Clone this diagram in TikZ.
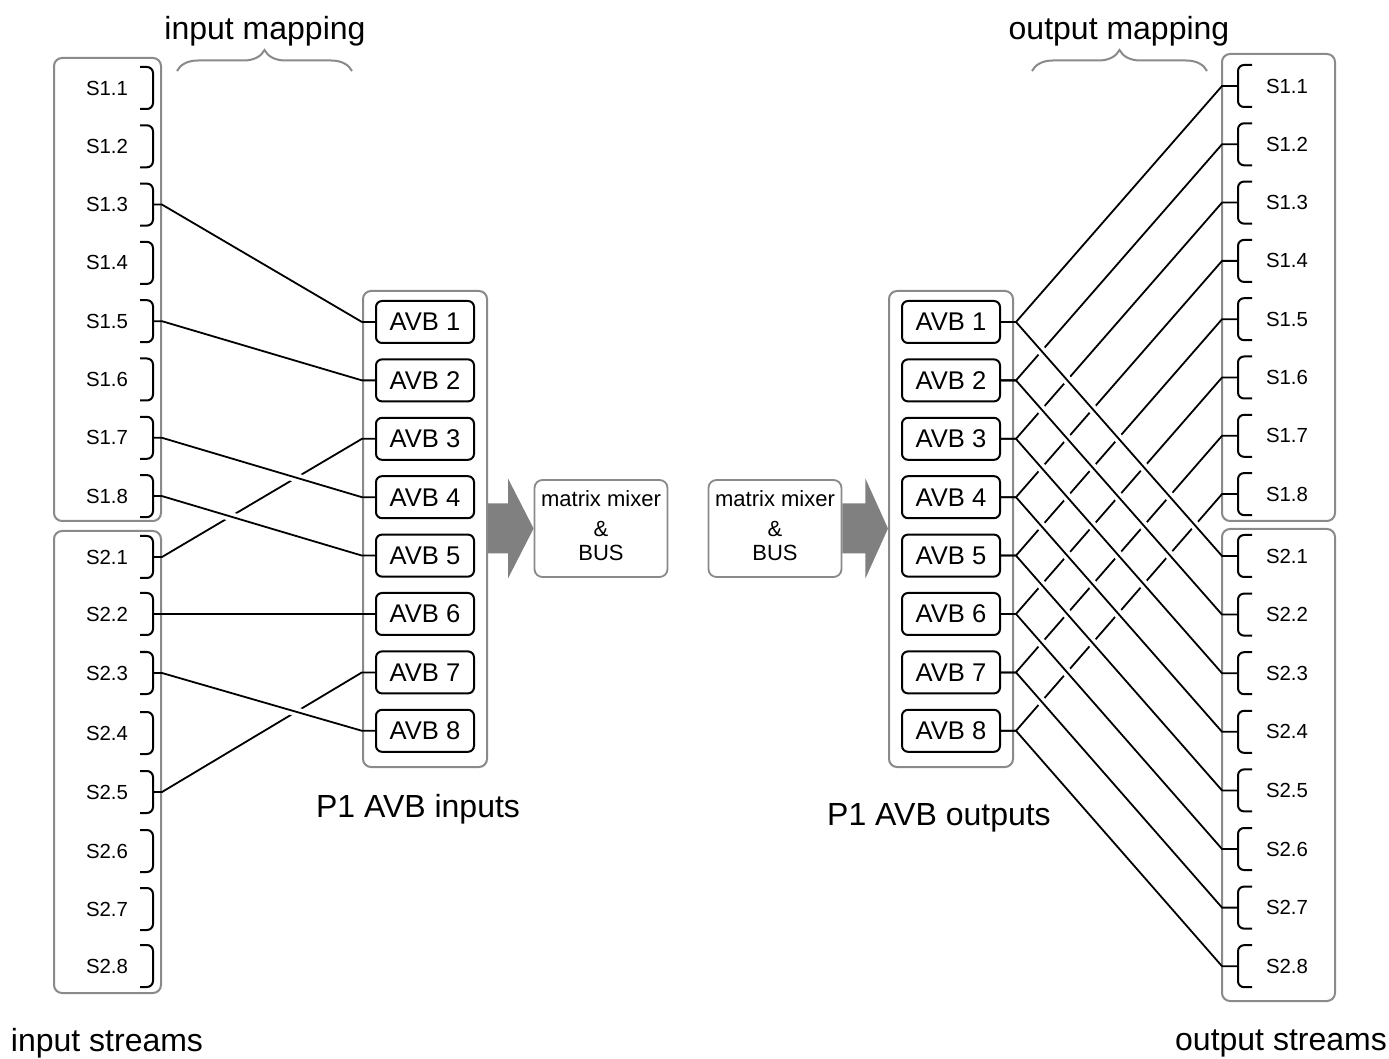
\documentclass[tikz,border=0pt]{standalone}
\usepackage{fontspec}
\setmainfont{Liberation Sans}
\usepackage{tikz}
\usetikzlibrary{calc,positioning,decorations.pathreplacing}
\definecolor{frame}{HTML}{8A8A8A}
\definecolor{fatgray}{HTML}{808080}

\begin{document}
\begin{tikzpicture}[x=0.5pt,y=-0.5pt,
  grp/.style={draw=frame,line width=1pt,rounded corners=4pt,inner sep=0pt},
  strm/.style={font=\fontsize{10.2}{12}\selectfont,inner sep=0pt},
  brk/.style={line width=1pt,rounded corners=3pt},
  avb/.style={draw,line width=1pt,rounded corners=3pt,minimum width=49pt,minimum height=21pt,inner sep=0pt,font=\fontsize{12.8}{14}\selectfont},
  mix/.style={draw=frame,line width=0.9pt,rounded corners=4pt,minimum width=66.5pt,minimum height=48.5pt,align=center,inner sep=0pt,font=\fontsize{11}{12}\selectfont},
  big/.style={font=\fontsize{16}{18}\selectfont,inner sep=0pt},
  brc/.style={draw=frame,line width=1pt,decorate,decoration={brace,amplitude=10.5pt}},
  wire/.style={line width=0.9pt},
  halo/.style={draw=white,line width=4.5pt,shorten <=6pt,shorten >=6pt}]
\useasboundingbox (0,0) rectangle (1389,1059);

% group frames
\node[grp,minimum width=53.5pt,minimum height=231.5pt] (ig1) at (107.5,289.5) {};
\node[grp,minimum width=53.5pt,minimum height=231pt] (ig2) at (107.5,762) {};
\node[grp,minimum width=56.5pt,minimum height=233.5pt] (og1) at (1278.5,287.5) {};
\node[grp,minimum width=56.5pt,minimum height=236pt] (og2) at (1278.5,765) {};
\node[grp,minimum width=62pt,minimum height=238pt] (ingrp) at (425,529) {};
\node[grp,minimum width=62pt,minimum height=238pt] (outgrp) at (951,529) {};

% streams and AVB channels
\foreach \k/\yb in {1/557,2/614,3/673,4/733,5/792,6/851,7/909,8/966}{
  \pgfmathsetmacro\ya{88+58.3*(\k-1)}
  \pgfmathsetmacro\yc{86+58.3*(\k-1)}
  \pgfmathsetmacro\yd{556+58.6*(\k-1)}
  \pgfmathsetmacro\yv{322+58.4*(\k-1)}
  \node[strm] (is1-\k) at (107,\ya) {S1.\k};
  \node[strm] (is2-\k) at (107,\yb) {S2.\k};
  \node[strm] (os1-\k) at (1287,\yc) {S1.\k};
  \node[strm] (os2-\k) at (1287,\yd) {S2.\k};
  \coordinate (ip1-\k) at (153,\ya);
  \coordinate (ip2-\k) at (153,\yb);
  \coordinate (op1-\k) at (1238,\yc);
  \coordinate (op2-\k) at (1238,\yd);
  \draw[brk] (ip1-\k) ++(-13,-21) -- ++(13,0) -- ++(0,42) -- ++(-13,0);
  \draw[brk] (ip2-\k) ++(-13,-21) -- ++(13,0) -- ++(0,42) -- ++(-13,0);
  \draw[brk] (op1-\k) ++(14,-21) -- ++(-14,0) -- ++(0,42) -- ++(14,0);
  \draw[brk] (op2-\k) ++(14,-21) -- ++(-14,0) -- ++(0,42) -- ++(14,0);
  \node[avb] (ai\k) at (425,\yv) {AVB \k};
  \node[avb] (ao\k) at (951,\yv) {AVB \k};
}

% mixers and fat arrows
\node[mix] (mixin) at (601,528.5) {matrix mixer\\[3pt]\&\\BUS\rule[-3pt]{0pt}{0pt}};
\node[mix] (mixout) at (775,528.5) {matrix mixer\\[3pt]\&\\BUS\rule[-3pt]{0pt}{0pt}};
\coordinate (fa) at (ingrp.east |- mixin.west);
\fill[fatgray] ($(fa)+(0,-25)$) -- ($(fa)+(20,-25)$) -- ($(fa)+(20,-50)$) -- (mixin.west)
  -- ($(fa)+(20,50)$) -- ($(fa)+(20,25)$) -- ($(fa)+(0,25)$) -- cycle;
\coordinate (fb) at (mixout.east);
\fill[fatgray] ($(fb)+(0,-25)$) -- ($(fb)+(23,-25)$) -- ($(fb)+(23,-50)$) -- (outgrp.west |- mixout.east)
  -- ($(fb)+(23,50)$) -- ($(fb)+(23,25)$) -- ($(fb)+(0,25)$) -- cycle;

% input mapping
\foreach \g/\s/\a in {2/1/3,2/5/7}
  \draw[wire] (ip\g-\s) -- ++(9,0) -- ($(ai\a.west)+(-13,0)$) -- (ai\a.west);
\foreach \g/\s/\a in {1/3/1,1/5/2,1/7/4,1/8/5,2/2/6,2/3/8}{
  \draw[halo] ($(ip\g-\s)+(9,0)$) -- ($(ai\a.west)+(-13,0)$);
  \draw[wire] (ip\g-\s) -- ++(9,0) -- ($(ai\a.west)+(-13,0)$) -- (ai\a.west);
}

% output mapping
\foreach \k in {1,...,8}
  \draw[wire] (ao\k.east) -- ++(15,0) -- ($(op1-\k)+(-16,0)$) -- (op1-\k);
\foreach \k in {1,...,8}{
  \draw[halo] ($(ao\k.east)+(15,0)$) -- ($(op2-\k)+(-16,0)$);
  \draw[wire] (ao\k.east) -- ++(15,0) -- ($(op2-\k)+(-16,0)$) -- (op2-\k);
}

% labels
\draw[brc] (177,71) -- (352,71);
\draw[brc] (1032,71) -- (1207,71);
\node[big] (inmap) at (265,31) {input mapping};
\node[big] (outmap) at (1119,31) {output mapping};
\node[big] (inlbl) at (418,809) {P1 AVB inputs};
\node[big] (outlbl) at (939,818) {P1 AVB outputs};
\node[big] (instr) at (107,1043) {input streams};
\node[big] (outstr) at (1281,1043) {output streams};
\end{tikzpicture}
\end{document}
